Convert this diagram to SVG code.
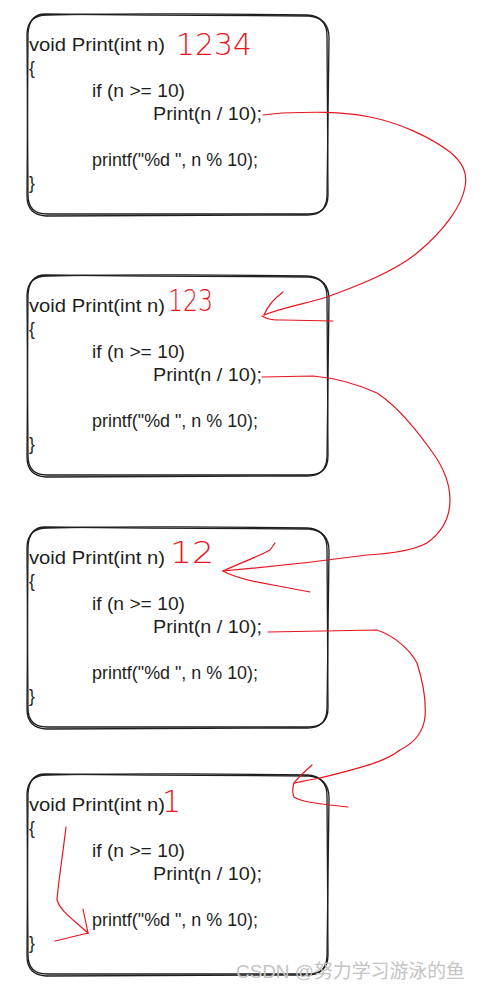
<svg xmlns="http://www.w3.org/2000/svg" xmlns:xlink="http://www.w3.org/1999/xlink" width="482" height="988" viewBox="0 0 482 988">
<style>
.bx{fill:none;stroke:#1e1e1e;stroke-width:1.3;stroke-linejoin:round}
.code{font-family:"Liberation Sans",Arial,sans-serif;font-size:17.5px;fill:#1e1e1e}
.num{font-family:"DejaVu Sans","Liberation Sans",sans-serif;font-weight:200;font-size:30px;fill:#e8141e}
.red{fill:none;stroke:#e8141e;stroke-width:1.2;stroke-linecap:round;stroke-linejoin:round}
.wm{font-family:"Liberation Sans","Noto Sans CJK SC",sans-serif;font-size:19px;fill:#c4c4c4}
</style>
<defs>
<g id="box">
<path class="bx" d="M47,1 C120,-1 250,0 307,1 Q327,2 327,22 L328,181 Q328,200 308,200 L47,200 Q28,200 28,181 L27,21 Q27,1 47,1 Z"/>
<path class="bx" d="M45,0 C130,1 240,2 309,2 Q329,4 329,24 L327,182 Q326,202 306,201 L46,202 Q27,201 27,182 L28,20 Q29,0 45,0 Z"/>
</g>
<g id="code">
<text class="code" x="29" y="37" textLength="136" lengthAdjust="spacingAndGlyphs">void Print(int n)</text>
<text class="code" x="29" y="60">{</text>
<text class="code" x="92" y="83" textLength="93" lengthAdjust="spacingAndGlyphs">if (n &gt;= 10)</text>
<text class="code" x="153" y="106" textLength="109" lengthAdjust="spacingAndGlyphs">Print(n / 10);</text>
<text class="code" x="92" y="152" textLength="166" lengthAdjust="spacingAndGlyphs">printf("%d ", n % 10);</text>
<text class="code" x="29" y="175">}</text>
</g>
</defs>

<g id="node1" transform="translate(0,14)">
<use xlink:href="#box"/>
<use xlink:href="#code"/>
<text class="num" x="176" y="41" textLength="76" lengthAdjust="spacingAndGlyphs">1234</text>
</g>

<g id="node2" transform="translate(0,275)">
<use xlink:href="#box"/>
<use xlink:href="#code"/>
<text class="num" x="168" y="36" textLength="45" lengthAdjust="spacingAndGlyphs">123</text>
</g>

<g id="node3" transform="translate(0,527)">
<use xlink:href="#box"/>
<use xlink:href="#code"/>
<text class="num" x="170" y="36" textLength="44" lengthAdjust="spacingAndGlyphs">12</text>
</g>

<g id="node4" transform="translate(0,774)">
<use xlink:href="#box"/>
<use xlink:href="#code"/>
<text class="num" x="162" y="38">1</text>
</g>

<g id="connectors">
<path class="red" d="M263,115 L282,113 C310,112 340,111 370,117 C400,123 430,137 450,152 C462,162 468,172 465,187 C462,205 445,230 417,253 C395,271 360,285 327,297 C305,304 285,307 264,315"/>
<path class="red" d="M264,315 C268,305 275,298 283,292"/>
<path class="red" d="M262,316 C268,320 275,320 283,320 L333,321"/>

<path class="red" d="M262,377 L313,376 C335,378 355,383 377,393 C400,408 420,435 433,453 C445,470 450,485 450,500 C450,515 445,530 427,543 C410,552 385,554 367,555 C330,560 280,566 223,571"/>
<path class="red" d="M223,571 C240,563 262,555 270,550 L275,543"/>
<path class="red" d="M223,571 C235,578 255,582 273,585 L310,592"/>

<path class="red" d="M268,632 L377,630 C395,636 410,650 417,663 C424,685 426,705 425,717 C423,735 410,745 400,750 C385,762 360,768 320,778 C308,780 300,782 294,783"/>
<path class="red" d="M294,783 C300,775 307,770 312,765"/>
<path class="red" d="M294,783 C292,790 293,795 294,797 C300,801 310,803 348,807"/>

<path class="red" d="M66,827 C62,860 58,885 57,900 C60,910 70,917 88,933"/>
<path class="red" d="M88,933 L83,909"/>
<path class="red" d="M88,933 L55,941"/>
</g>

<text class="wm" x="236" y="978" textLength="229" lengthAdjust="spacingAndGlyphs">CSDN @努力学习游泳的鱼</text>
</svg>
